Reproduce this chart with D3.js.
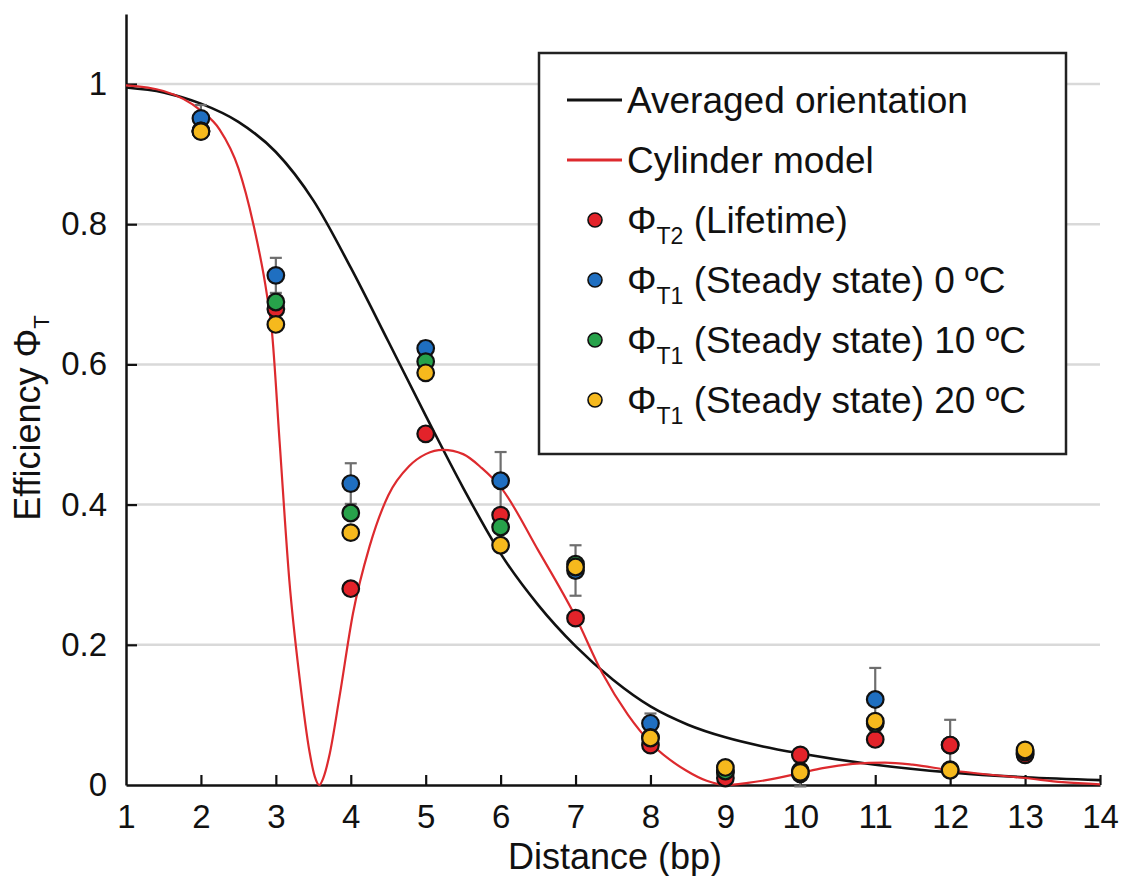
<!DOCTYPE html>
<html>
<head>
<meta charset="utf-8">
<script src="https://cdn.jsdelivr.net/npm/d3@7"></script>
<style>
  html, body { margin: 0; padding: 0; background: #fff; }
  svg { display: block; font-family: "Liberation Sans", Arial, Helvetica, sans-serif; }
</style>
</head>
<body>
<svg id="chart" width="1126" height="876"></svg>
<script>
// Base-pair distances with measurements
const distance = [2, 3, 4, 5, 6, 7, 8, 9, 10, 11, 12, 13];

// Φ_T2 from fluorescence lifetimes
const lifetime = [0.933, 0.679, 0.280, 0.501, 0.385, 0.238, 0.057, 0.010, 0.043, 0.065, 0.057, 0.043];
// Φ_T1 steady-state at 0 ºC, with error
const steady0 = [0.951, 0.727, 0.430, 0.623, 0.434, 0.306, 0.088, 0.018, 0.016, 0.122, 0.057, 0.045];
const steady0Err = [0.019, 0.025, 0.029, 0.010, 0.041, 0.036, 0.014, 0.008, 0.018, 0.045, 0.036, 0.005];
// Φ_T1 steady-state at 10 ºC
const steady10 = [0.933, 0.689, 0.388, 0.604, 0.368, 0.315, 0.068, 0.020, 0.020, 0.088, 0.022, 0.047];
// Φ_T1 steady-state at 20 ºC
const steady20 = [0.932, 0.657, 0.360, 0.588, 0.342, 0.311, 0.067, 0.025, 0.018, 0.091, 0.021, 0.050];

// Model curves, sampled along the distance axis
const avgOrientX = [1, 1.5, 2, 2.5, 3, 3.5, 4, 4.5, 5, 5.5, 6, 6.5, 7, 7.5, 8, 8.5, 9, 9.5, 10, 11, 12, 13, 14];
const avgOrientY = [0.995, 0.988, 0.972, 0.946, 0.903, 0.834, 0.738, 0.633, 0.527, 0.424, 0.33, 0.257, 0.198, 0.150, 0.112, 0.086, 0.068, 0.055, 0.045, 0.029, 0.018, 0.011, 0.007];

const cylinderX = [1, 1.5, 2, 2.25, 2.5, 2.7, 2.88, 2.945, 3.05, 3.18, 3.32, 3.45, 3.52, 3.58, 3.64, 3.72, 3.85, 4.03, 4.25, 4.5, 4.78, 5, 5.23, 5.5, 5.75, 6, 6.5, 7, 7.36, 7.7, 8.02, 8.47, 8.75, 9, 9.3, 9.6, 10, 10.3, 10.7, 11.13, 11.5, 12, 12.5, 13, 13.5, 14];
const cylinderY = [0.998, 0.99, 0.962, 0.935, 0.88, 0.80, 0.70, 0.65, 0.49, 0.292, 0.15, 0.047, 0.012, 0, 0.012, 0.045, 0.126, 0.245, 0.34, 0.413, 0.455, 0.472, 0.478, 0.472, 0.452, 0.425, 0.335, 0.24, 0.159, 0.1, 0.058, 0.021, 0.006, 0, 0.003, 0.008, 0.017, 0.024, 0.03, 0.032, 0.029, 0.021, 0.015, 0.01, 0.004, 0.001];

// Axis ticks
const xTicks = [1, 2, 3, 4, 5, 6, 7, 8, 9, 10, 11, 12, 13, 14];
const yTicks = [0, 0.2, 0.4, 0.6, 0.8, 1];
const yTickLabels = ["0", "0.2", "0.4", "0.6", "0.8", "1"];

const colors = {
  red: "#e3232a",
  blue: "#1f6fc1",
  green: "#27a24a",
  yellow: "#f6b91d",
  line: "#111",
  curveRed: "#dd2a2e",
  grid: "#d9d9d9",
  err: "#6e6e6e"
};

const svg = d3.select("#chart");
const x = d3.scaleLinear().domain([1, 14]).range([126, 1100]);
const y = d3.scaleLinear().domain([0, 1.1]).range([785, 13.9]);

// Horizontal gridlines
svg.append("g").selectAll("line")
  .data(yTicks.filter(d => d > 0))
  .join("line")
  .attr("x1", x(1)).attr("x2", x(14))
  .attr("y1", d => y(d)).attr("y2", d => y(d))
  .attr("stroke", colors.grid).attr("stroke-width", 2.5);

// Axes with inward ticks
const fontTick = 33;
const xAxis = svg.append("g")
  .attr("transform", `translate(0,${y(0)})`)
  .call(d3.axisBottom(x).tickValues(xTicks).tickFormat(d3.format("d"))
    .tickSizeInner(-10).tickSizeOuter(0).tickPadding(20));
const yAxis = svg.append("g")
  .attr("transform", `translate(${x(1)},0)`)
  .call(d3.axisLeft(y).tickValues(yTicks).tickFormat((d, i) => yTickLabels[i])
    .tickSizeInner(-11).tickSizeOuter(0).tickPadding(19));

[xAxis, yAxis].forEach(g => {
  g.select(".domain").attr("stroke", colors.line).attr("stroke-width", 2.5);
  g.selectAll(".tick line").attr("stroke", colors.line).attr("stroke-width", 2.2);
  g.selectAll(".tick text")
    .attr("fill", "#111")
    .style("font-size", fontTick + "px")
    .style("font-family", '"Liberation Sans", Arial, sans-serif');
});
xAxis.selectAll(".tick").filter(d => d === 1).select("line").remove();
yAxis.selectAll(".tick").filter(d => d === 0).select("line").remove();

// Axis titles
svg.append("text")
  .attr("x", 615).attr("y", 869)
  .attr("text-anchor", "middle")
  .style("font-size", "36px")
  .attr("fill", "#111")
  .text("Distance (bp)");

const yTitle = svg.append("text")
  .attr("transform", "translate(40,418) rotate(-90)")
  .attr("text-anchor", "middle")
  .style("font-size", "36px")
  .attr("fill", "#111");
yTitle.append("tspan").text("Efficiency Φ");
yTitle.append("tspan").attr("dy", 9).style("font-size", "22px").text("T");

// Model curves
const curve = d3.line().x(d => x(d[0])).y(d => y(d[1])).curve(d3.curveMonotoneX);
svg.append("path")
  .attr("d", curve(avgOrientX.map((v, i) => [v, avgOrientY[i]])))
  .attr("fill", "none").attr("stroke", colors.line).attr("stroke-width", 2.6);
svg.append("path")
  .attr("d", curve(cylinderX.map((v, i) => [v, cylinderY[i]])))
  .attr("fill", "none").attr("stroke", colors.curveRed).attr("stroke-width", 2.2);

// Error bars on the 0 ºC steady-state series
const errG = svg.append("g").attr("stroke", colors.err).attr("stroke-width", 2.2);
distance.forEach((d, i) => {
  const cx = x(d);
  const lo = steady0[i] - steady0Err[i], hi = steady0[i] + steady0Err[i];
  errG.append("line").attr("x1", cx).attr("x2", cx).attr("y1", y(lo)).attr("y2", y(hi));
  errG.append("line").attr("x1", cx - 6).attr("x2", cx + 6).attr("y1", y(hi)).attr("y2", y(hi));
  errG.append("line").attr("x1", cx - 6).attr("x2", cx + 6).attr("y1", y(lo)).attr("y2", y(lo));
});

// Measured points, drawn in series order
const series = [
  { values: steady0, color: colors.blue },
  { values: lifetime, color: colors.red },
  { values: steady10, color: colors.green },
  { values: steady20, color: colors.yellow }
];
series.forEach(s => {
  svg.append("g").selectAll("circle")
    .data(distance.map((d, i) => [d, s.values[i]]))
    .join("circle")
    .attr("cx", d => x(d[0])).attr("cy", d => y(d[1]))
    .attr("r", 8.3)
    .attr("fill", s.color)
    .attr("stroke", "#111").attr("stroke-width", 2.2);
});

// Legend
const legend = svg.append("g");
legend.append("rect")
  .attr("x", 539).attr("y", 53).attr("width", 527).attr("height", 401)
  .attr("fill", "#fff").attr("stroke", "#222").attr("stroke-width", 2.5);

const legendRows = [
  { type: "line", color: colors.line, main: "Averaged orientation" },
  { type: "line", color: colors.curveRed, main: "Cylinder model" },
  { type: "dot", color: colors.red, phi: "T2", main: " (Lifetime)" },
  { type: "dot", color: colors.blue, phi: "T1", main: " (Steady state) 0 ºC" },
  { type: "dot", color: colors.green, phi: "T1", main: " (Steady state) 10 ºC" },
  { type: "dot", color: colors.yellow, phi: "T1", main: " (Steady state) 20 ºC" }
];
legendRows.forEach((r, i) => {
  const cy = 100 + i * 60;
  if (r.type === "line") {
    legend.append("line")
      .attr("x1", 567).attr("x2", 622).attr("y1", cy).attr("y2", cy)
      .attr("stroke", r.color).attr("stroke-width", 3);
  } else {
    legend.append("circle")
      .attr("cx", 595).attr("cy", cy).attr("r", 7)
      .attr("fill", r.color).attr("stroke", "#111").attr("stroke-width", 1.6);
  }
  const t = legend.append("text")
    .attr("x", 627).attr("y", cy + 13)
    .style("font-size", "37px").attr("fill", "#111");
  if (r.phi) {
    t.append("tspan").text("Φ");
    t.append("tspan").attr("dy", 11).style("font-size", "23px").text(r.phi);
    t.append("tspan").attr("dy", -11).text(r.main);
  } else {
    t.text(r.main);
  }
});
</script>
</body>
</html>
